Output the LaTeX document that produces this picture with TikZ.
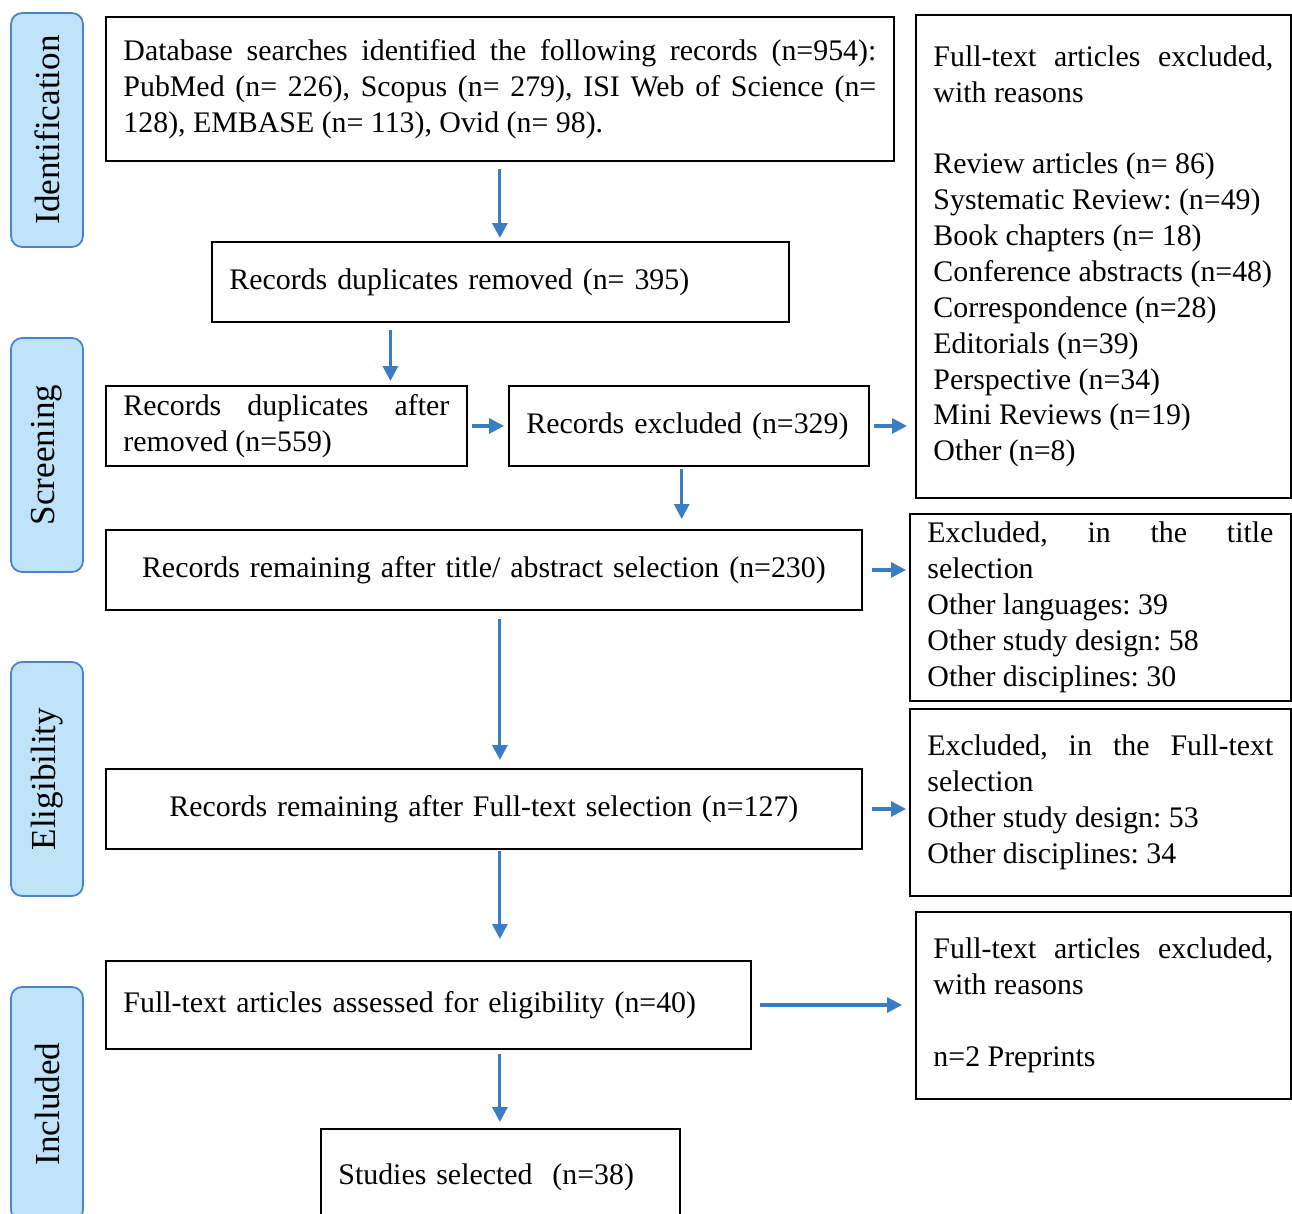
\documentclass[tikz,border=0pt]{standalone}
\usepackage{fontspec}
\setmainfont{Liberation Serif}
\usetikzlibrary{arrows.meta,calc}
\definecolor{arrowblue}{HTML}{3B7DC4}
\definecolor{tabfill}{HTML}{BFE3F9}
\definecolor{tabline}{HTML}{4A84C4}
\newcommand{\boxfont}{\fontsize{17}{20.4}\selectfont}
\newcommand{\tabfont}{\fontsize{20}{24}\selectfont}
\frenchspacing
\tikzset{
  box/.style={draw, line width=1.1pt, anchor=north west, inner xsep=0.35cm,
    inner ysep=0pt, font=\boxfont},
  jbox/.style={box, align=justify},
  cbox/.style={box, align=center},
  lbox/.style={box, align=left},
  phase/.style={draw=tabline, fill=tabfill, line width=1pt, rounded corners=0.22cm,
    rotate=90, minimum width=4.68cm, minimum height=1.44cm, font=\tabfont},
  arr/.style={draw=arrowblue, line width=1.8pt,
    -{Triangle[length=0.3cm,width=0.3cm]}},
}
\begin{document}
\begin{tikzpicture}[x=0.02cm,y=-0.02cm]
  \useasboundingbox (0,0) rectangle (1292,1214);
  \hyphenpenalty=10000

  % phase labels
  \node[phase] (ident) at (47,130) {Identification};
  \node[phase] (screen) at (47,455) {Screening};
  \node[phase] (elig) at (47,779) {Eligibility};
  \node[phase] (incl) at (47,1104) {Included};

  % main column
  \node[jbox, text width=15.06cm, minimum height=2.88cm] (db) at (105,16)
    {Database searches identified the following records (n=954):\linebreak
     PubMed (n= 226), Scopus (n= 279), ISI Web of Science (n=\linebreak
     128), EMBASE (n= 113), Ovid (n= 98).};
  \node[lbox, text width=10.84cm, minimum height=1.6cm] (dup) at (211,241)
    {Records duplicates removed (n= 395)};
  \node[jbox, text width=6.52cm, minimum height=1.6cm] (dupafter) at (105,385)
    {Records duplicates after\linebreak removed (n=559)};
  \node[lbox, text width=6.5cm, minimum height=1.6cm] (excl) at (508,385)
    {Records excluded (n=329)};
  \node[cbox, text width=14.42cm, minimum height=1.6cm] (title) at (105,529)
    {Records remaining after title/ abstract selection (n=230)};
  \node[cbox, text width=14.42cm, minimum height=1.6cm] (full) at (105,768)
    {Records remaining after Full-text selection (n=127)};
  \node[lbox, text width=12.2cm, minimum height=1.76cm] (assess) at (105,960)
    {Full-text articles assessed for eligibility (n=40)};
  \node[lbox, text width=6.48cm, minimum height=1.92cm] (studies) at (320,1128)
    {Studies selected~ (n=38)};

  % exclusion column
  \node[jbox, text width=6.8cm, minimum height=9.66cm] (reasons) at (915,14)
    {Full-text articles excluded,\linebreak with reasons\\[20.4pt]
     Review articles (n= 86)\\
     Systematic Review: (n=49)\\
     Book chapters (n= 18)\\
     Conference abstracts (n=48)\\
     Correspondence (n=28)\\
     Editorials (n=39)\\
     Perspective (n=34)\\
     Mini Reviews (n=19)\\
     Other (n=8)};
  \node[jbox, text width=6.92cm, minimum height=3.74cm] (extitle) at (909,513)
    {Excluded, in the title\linebreak selection\\
     Other languages: 39\\
     Other study design: 58\\
     Other disciplines: 30};
  \node[jbox, text width=6.92cm, minimum height=3.74cm] (exfull) at (909,708)
    {Excluded, in the Full-text\linebreak selection\\
     Other study design: 53\\
     Other disciplines: 34};
  \node[jbox, text width=6.8cm, minimum height=3.74cm] (preprint) at (915,911)
    {Full-text articles excluded,\linebreak with reasons\\[20.4pt]
     n=2 Preprints};

  % arrows
  \draw[arr, shorten <=0.14cm, shorten >=0.06cm] (db.south) -- (db.south |- dup.north);
  \coordinate (dupout) at ($(dup.south west)!0.31!(dup.south east)$);
  \draw[arr, shorten <=0.14cm, shorten >=0.08cm] (dupout) -- (dupout |- dupafter.north);
  \draw[arr, shorten <=0.08cm, shorten >=0.08cm] (dupafter.east) -- (excl.west);
  \draw[arr, shorten <=0.08cm, shorten >=0.16cm] (excl.east) -- (excl.east -| reasons.west);
  \coordinate (exclout) at ($(excl.south west)!0.48!(excl.south east)$);
  \draw[arr, shorten <=0.04cm, shorten >=0.2cm] (exclout) -- (exclout |- title.north);
  \draw[arr, shorten <=0.18cm, shorten >=0.06cm] (title.east) -- (title.east -| extitle.west);
  \draw[arr, shorten <=0.16cm, shorten >=0.16cm] (title.south -| db.south) -- (full.north -| db.south);
  \draw[arr, shorten <=0.18cm, shorten >=0.06cm] (full.east) -- (full.east -| exfull.west);
  \draw[arr, shorten <=0.02cm, shorten >=0.42cm] (full.south -| db.south) -- (assess.north -| db.south);
  \draw[arr, shorten <=0.16cm, shorten >=0.26cm] (assess.east) -- (assess.east -| preprint.west);
  \draw[arr, shorten <=0.08cm, shorten >=0.12cm] (assess.south -| db.south) -- (studies.north -| db.south);
\end{tikzpicture}
\end{document}
